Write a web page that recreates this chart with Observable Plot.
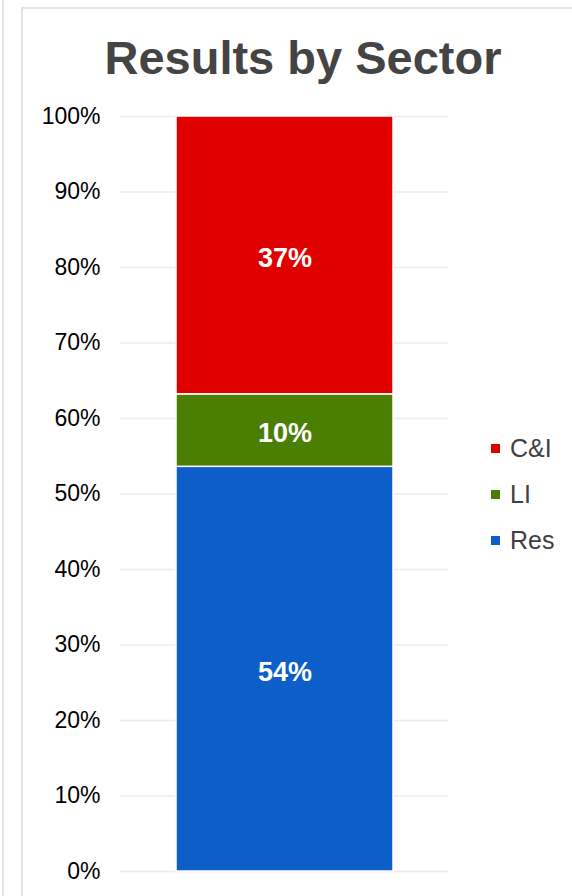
<!DOCTYPE html>
<html>
<head>
<meta charset="utf-8">
<script src="https://cdn.jsdelivr.net/npm/d3@7"></script>
<script src="https://cdn.jsdelivr.net/npm/@observablehq/plot@0.6"></script>
<style>
  html, body { margin: 0; padding: 0; background: #fff; }
  #wrap { position: relative; width: 572px; height: 896px; overflow: hidden; font-family: "Liberation Sans", Arial, sans-serif; }
  .vline { position: absolute; top: 0; bottom: 0; width: 2px; background: #e3e3e3; }
  .hline { position: absolute; left: 21px; right: 0; height: 2px; background: #e3e3e3; }
  #title { position: absolute; left: 34px; right: 0; top: 28px; text-align: center; font-weight: bold; font-size: 47px; color: #444; line-height: 60px; }
  #legend { position: absolute; left: 491px; top: 425px; }
  .item { display: flex; align-items: center; height: 46px; font-size: 25px; color: #404040; }
  .sw { width: 9px; height: 9px; margin-right: 10px; }
  #chart { position: absolute; left: 0; top: 0; }
</style>
</head>
<body>
<div id="wrap">
  <div class="vline" style="left:2px"></div>
  <div class="vline" style="left:21px; top:7px"></div>
  <div class="hline" style="top:7px"></div>
  <div id="chart"></div>
  <div id="title">Results by Sector</div>
  <div id="legend"></div>
</div>
<script>
const sectors = ["Res", "LI", "C&I"];
const shares = [53.6, 9.6, 36.8];
const colors = ["#0e5ec9", "#4b7f04", "#e00000"];
const yTicks = [0, 10, 20, 30, 40, 50, 60, 70, 80, 90, 100];
const legendOrder = ["C&I", "LI", "Res"];

const data = sectors.map((s, i) => ({sector: s, value: shares[i], col: ""}));

const plot = Plot.plot({
  width: 572,
  height: 896,
  marginTop: 116,
  marginBottom: 25,
  marginLeft: 120,
  marginRight: 124,
  style: {fontFamily: "'Liberation Sans', Arial, sans-serif", background: "transparent"},
  x: {domain: [""], padding: 0.2036, axis: null},
  y: {domain: [0, 100], ticks: yTicks, tickFormat: d => d + "%", label: null, tickSize: 0, tickPadding: 20},
  color: {domain: sectors, range: colors},
  marks: [
    Plot.gridY(yTicks, {stroke: "#ececec", strokeOpacity: 1, strokeWidth: 1.5}),
    Plot.axisY({ticks: yTicks, tickFormat: d => d + "%", tickSize: 0, tickPadding: 20, fontSize: 23, fill: "#000", label: null}),
    Plot.barY(data, {x: "col", y: "value", fill: "sector", stroke: "#fff", strokeWidth: 1.5}),
    Plot.text(data, Plot.stackY({x: "col", y: "value", text: d => Math.round(d.value) + "%", fill: "#fff", fontWeight: "bold", fontSize: 27, dy: 3}))
  ]
});
document.getElementById("chart").appendChild(plot);

const leg = document.getElementById("legend");
legendOrder.forEach(s => {
  const i = sectors.indexOf(s);
  const row = document.createElement("div");
  row.className = "item";
  const sw = document.createElement("div");
  sw.className = "sw";
  sw.style.background = colors[i];
  const t = document.createElement("span");
  t.textContent = s;
  row.appendChild(sw);
  row.appendChild(t);
  leg.appendChild(row);
});
</script>
</body>
</html>
